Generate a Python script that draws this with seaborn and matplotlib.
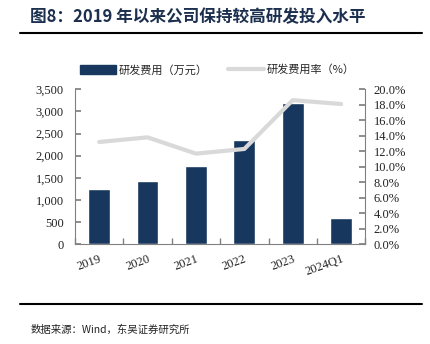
import matplotlib
matplotlib.use("Agg")
import matplotlib.pyplot as plt
import seaborn as sns
import numpy as np
import pandas as pd
from matplotlib.lines import Line2D
from matplotlib.patches import Patch
from matplotlib.ticker import FuncFormatter

categories = ["2019", "2020", "2021", "2022", "2023", "2024Q1"]
rd_expense = [1249, 1423, 1761, 2362, 3184, 601]
rd_rate = [13.2, 13.8, 11.7, 12.3, 18.6, 18.1]
left_ticks = [0, 500, 1000, 1500, 2000, 2500, 3000, 3500]
right_ticks = [0, 2, 4, 6, 8, 10, 12, 14, 16, 18, 20]

sns.set_theme(style="white")
plt.rcParams['font.family'] = ['Liberation Serif', 'Noto Sans CJK SC', 'DejaVu Sans']
cjk = ['Noto Sans CJK SC', 'DejaVu Sans']

bar_color = "#17375E"
line_color = "#D9D9D9"
axis_color = "#808080"

fig = plt.figure(figsize=(4.3, 3.44), dpi=100)
ax = fig.add_axes([75/430, 1-244.3/344, (365.3-75)/430, (244.3-89.3)/344])

df = pd.DataFrame({"cat": categories, "val": rd_expense})
sns.barplot(data=df, x="cat", y="val", color=bar_color, saturation=1, width=0.45, ax=ax)
ax.set_xlim(-0.5, len(categories)-0.5)
ax.set_ylim(0, 3500)
ax.set_yticks(left_ticks)
ax.yaxis.set_major_formatter(FuncFormatter(lambda v, p: f"{int(v):,}"))
ax.set_xlabel("")
ax.set_ylabel("")
ax.set_xticks(np.arange(len(categories)))
ax.set_xticklabels(categories, rotation=20, ha="right", rotation_mode="anchor")
ax.set_xticks(np.arange(len(categories)+1)-0.5, minor=True)

ax2 = ax.twinx()
sns.lineplot(x=np.arange(len(categories)), y=rd_rate, color=line_color, linewidth=3, ax=ax2)
ax2.set_ylim(0, 20)
ax2.set_yticks(right_ticks)
ax2.yaxis.set_major_formatter(FuncFormatter(lambda v, p: f"{v:.1f}%"))
ax2.set_xlim(-0.5, len(categories)-0.5)

for a in (ax, ax2):
    for s in a.spines.values():
        s.set_color(axis_color)
        s.set_linewidth(0.8)
    a.spines['top'].set_visible(False)
ax.spines['right'].set_visible(False)
ax2.spines['left'].set_visible(False)
ax2.spines['bottom'].set_visible(False)

ax.tick_params(axis='y', which='major', direction='in', length=4, color=axis_color, labelsize=9, pad=8, labelcolor="#222222")
ax.tick_params(axis='x', which='major', length=0, labelsize=9, pad=6, labelcolor="#222222")
ax.tick_params(axis='x', which='minor', direction='in', length=4, color=axis_color, bottom=True)
ax2.tick_params(axis='y', direction='in', length=4, color=axis_color, labelsize=9, pad=6, labelcolor="#222222")

handles = [Patch(facecolor=bar_color, edgecolor=bar_color),
           Line2D([0], [0], color=line_color, linewidth=3)]
labels = ["研发费用（万元）", "研发费用率（%）"]
fig.legend(handles, labels, loc="center", bbox_to_anchor=(0.506, 1-70/344), ncol=2,
           frameon=False, prop={'family': cjk, 'size': 8}, handlelength=3.2,
           handleheight=0.9, columnspacing=1.8, handletextpad=0.3)

fig.text(30/430, 1-17/344, "图8：2019 年以来公司保持较高研发投入水平", family=cjk,
         fontsize=12, fontweight="bold", color="#1C2F4F", va="center", ha="left")
fig.add_artist(Line2D([20/430, 422/430], [1-33/344, 1-33/344], color="black", linewidth=1.5))
fig.add_artist(Line2D([20/430, 422/430], [1-304/344, 1-304/344], color="black", linewidth=1.5))
fig.text(31/430, 1-330/344, "数据来源：Wind，东吴证券研究所", family=cjk,
         fontsize=7.5, color="#222222", va="center", ha="left")

fig.savefig("out.png", dpi=100, facecolor="white")
